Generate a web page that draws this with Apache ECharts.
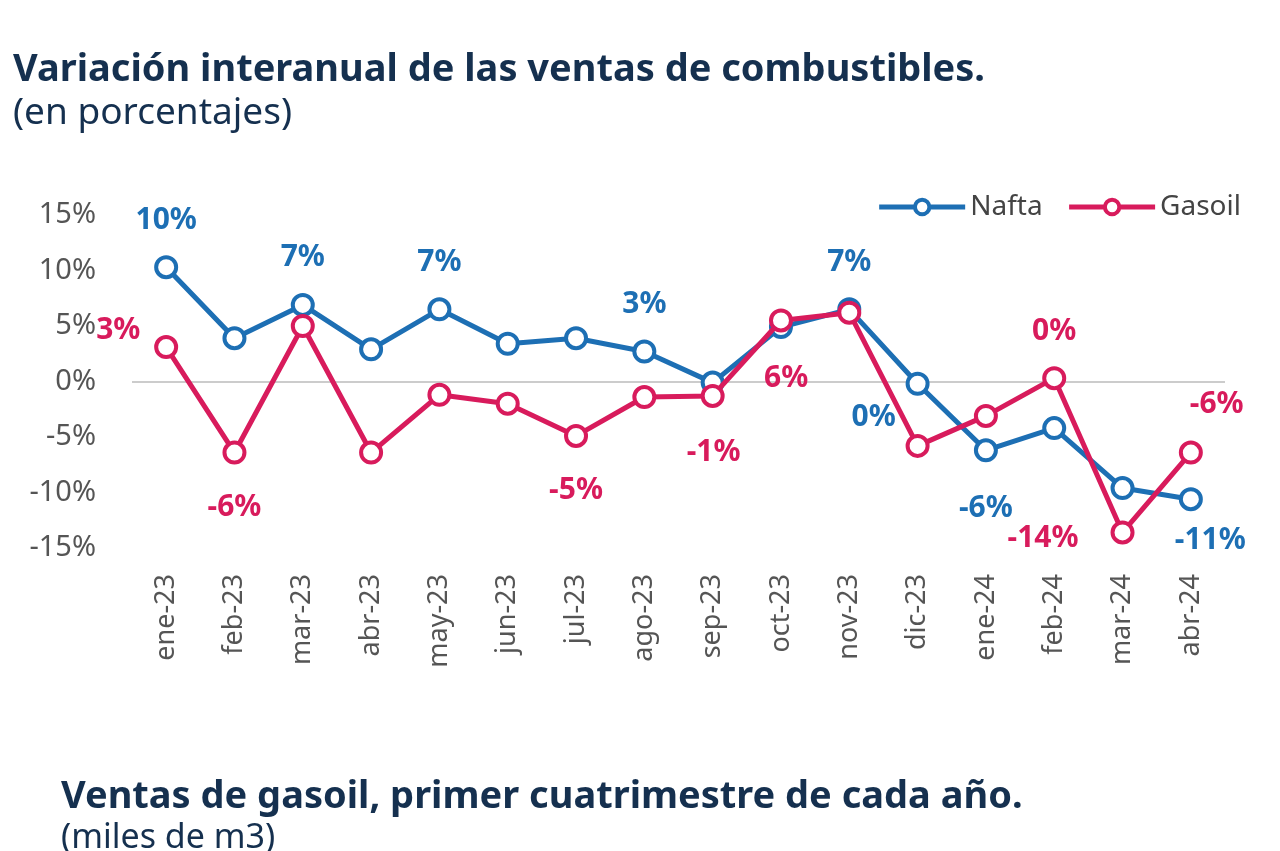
<!DOCTYPE html>
<html><head><meta charset="utf-8">
<script src="https://cdn.jsdelivr.net/npm/echarts@6/dist/echarts.min.js"></script>
<style>html,body{margin:0;padding:0;background:#fff}#c{width:1280px;height:851px}</style>
</head><body><div id="c"></div>
<script>
const categories=['ene-23','feb-23','mar-23','abr-23','may-23','jun-23','jul-23','ago-23','sep-23','oct-23','nov-23','dic-23','ene-24','feb-24','mar-24','abr-24'];
const nafta=[10.3,3.9,6.9,2.9,6.5,3.4,3.9,2.7,-0.1,4.9,6.5,-0.2,-6.2,-4.2,-9.6,-10.6];
const gasoil=[3.1,-6.4,5.0,-6.4,-1.2,-2.0,-4.9,-1.4,-1.3,5.5,6.2,-5.8,-3.1,0.3,-13.6,-6.4];
const naftaLabels=['10%',null,'7%',null,'7%',null,null,'3%',null,null,'7%','0%','-6%',null,null,'-11%'];
const gasoilLabels=['3%','-6%',null,null,null,null,'-5%',null,'-1%','6%',null,null,null,'0%','-14%','-6%'];
const yTicks=[-15,-10,-5,0,5,10,15];
const naftaPos=['top',null,'top',null,'top',null,null,'top',null,null,'top',[-54,31],[-15,55],null,null,[-4,38]];
const gasoilPos=[[-58,-20],'bottom',null,null,null,null,'bottom',null,[-14,54],[-5,55],null,null,null,'top',[-103,3],[11,-51]];
const C1='#1d6fb4',C2='#d81b5c';
function mk(vals,labs,pos){return vals.map((v,i)=>{const o={value:v};if(labs[i]){o.label={show:true,formatter:labs[i],position:pos[i],distance:pos[i]==='bottom'?28:20};}return o;});}
const chart=echarts.init(document.getElementById('c'));
const F='Noto Sans';
chart.setOption({
 animation:false,
 title:[{text:'Variación interanual de las ventas de combustibles.',left:8,top:46,textStyle:{fontFamily:F,fontSize:38,fontWeight:'bold',color:'#15304f'}},
        {text:'(en porcentajes)',left:8,top:90,textStyle:{fontFamily:F,fontSize:37,fontWeight:'normal',color:'#15304f'}},
        {text:'Ventas de gasoil, primer cuatrimestre de cada año.',left:56,top:773,textStyle:{fontFamily:F,fontSize:38,fontWeight:'bold',color:'#15304f'}},
        {text:'(miles de m3)',left:56,top:816,textStyle:{fontFamily:F,fontSize:34,fontWeight:'normal',color:'#15304f'}}],
 legend:{right:34,top:188,itemWidth:86,itemHeight:18,itemGap:24,
   itemStyle:{borderWidth:4},lineStyle:{width:5},
   textStyle:{fontFamily:F,fontSize:28,color:'#444'},data:['Nafta','Gasoil']},
 grid:{left:132,right:55,top:215,bottom:303,containLabel:false},
 xAxis:{type:'category',data:categories,boundaryGap:true,axisLine:{show:false},axisTick:{show:false},
   axisLabel:{rotate:90,fontFamily:F,fontSize:27,color:'#555',margin:26,interval:0}},
 yAxis:{type:'value',min:-15,max:15,interval:5,axisLine:{show:false},axisTick:{show:false},
   splitLine:{show:true,lineStyle:{color:['transparent','transparent','transparent','#ccc','transparent','transparent','transparent'],width:2}},
   axisLabel:{fontFamily:F,fontSize:29,color:'#555',margin:36,formatter:v=>yTicks.includes(v)?v+'%':''}},
 series:[
  {name:'Nafta',type:'line',data:mk(nafta,naftaLabels,naftaPos),symbol:'circle',symbolSize:20,
   lineStyle:{color:C1,width:5},itemStyle:{color:'#fff',borderColor:C1,borderWidth:4},
   label:{fontFamily:F,fontSize:30,fontWeight:'bold',color:C1},z:3},
  {name:'Gasoil',type:'line',data:mk(gasoil,gasoilLabels,gasoilPos),symbol:'circle',symbolSize:20,
   lineStyle:{color:C2,width:5},itemStyle:{color:'#fff',borderColor:C2,borderWidth:4},
   label:{fontFamily:F,fontSize:30,fontWeight:'bold',color:C2},z:4}
 ]
});
</script></body></html>
